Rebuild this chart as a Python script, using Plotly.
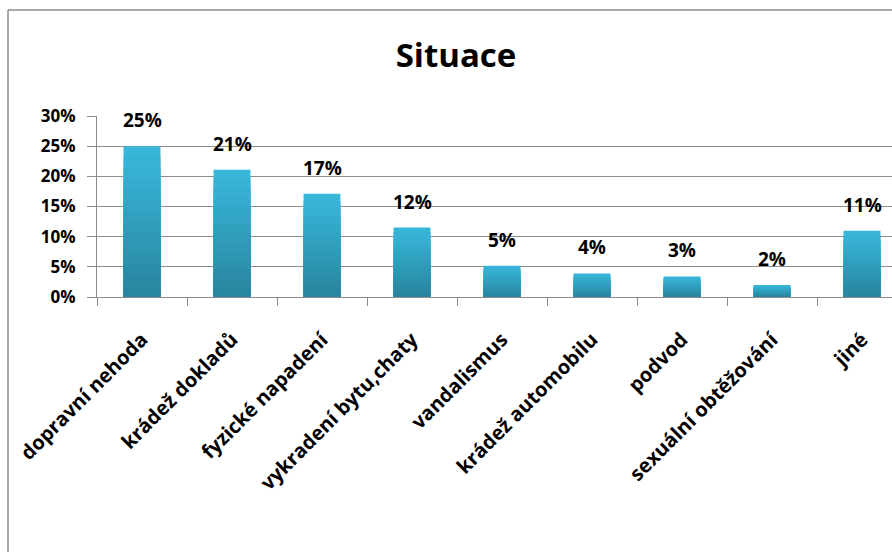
import plotly.graph_objects as go

categories = ["dopravní nehoda", "krádež dokladů", "fyzické napadení", "vykradení bytu,chaty",
              "vandalismus", "krádež automobilu", "podvod", "sexuální obtěžování", "jiné"]
values = [25.0, 21.1, 17.1, 11.5, 5.2, 3.9, 3.4, 2.0, 11.0]
y_ticks = [0, 5, 10, 15, 20, 25, 30]
y_tick_labels = ["0%", "5%", "10%", "15%", "20%", "25%", "30%"]
title_text = "Situace"

FONT = "Open Sans"
W, H = 892, 552
L, T, B, R = 97, 116, 255, 0
PW, PH = W - L - R, H - T - B

top_col = (0x38, 0xB6, 0xDA)
bot_col = (0x29, 0x86, 0xA0)
N = 14

fig = go.Figure()
for i in range(N):
    f = i / (N - 1)
    c = tuple(round(top_col[k] + (bot_col[k] - top_col[k]) * f) for k in range(3))
    fig.add_trace(go.Bar(
        x=categories, y=[v * (N - i) / N for v in values],
        marker=dict(color="rgb(%d,%d,%d)" % c, line=dict(width=0)),
        width=0.41, hoverinfo="skip", showlegend=False))

for cat, v in zip(categories, values):
    fig.add_annotation(x=cat, y=v, text=f"{round(v)}%", showarrow=False,
                       yanchor="bottom", yshift=11,
                       font=dict(family=FONT, size=19, color="#000000", weight="bold"))

def px_x(p):
    return (p - L) / PW

def px_y(p):
    return (T + PH - p) / PH

shapes = [
    dict(type="line", xref="paper", yref="paper", x0=px_x(8), x1=px_x(900), y0=px_y(10), y1=px_y(10),
         line=dict(color="#8c8c8c", width=1.5)),
    dict(type="line", xref="paper", yref="paper", x0=px_x(8), x1=px_x(8), y0=px_y(10), y1=px_y(560),
         line=dict(color="#8c8c8c", width=1.5)),
]

fig.update_layout(
    width=W, height=H,
    margin=dict(l=L, r=R, t=T, b=B, pad=0),
    paper_bgcolor="white", plot_bgcolor="white",
    barmode="overlay",
    shapes=shapes,
    title=dict(text=title_text, x=456 / W, xanchor="center", y=1 - 55 / H, yanchor="middle",
               xref="container", yref="container",
               font=dict(family=FONT, size=33, color="#000000", weight="bold")),
    xaxis=dict(type="category", range=[-0.5, -0.5 + PW / 90.0], tickson="boundaries",
               ticks="outside", ticklen=8, tickcolor="#8c8c8c", tickwidth=1,
               showline=True, linecolor="#8c8c8c", linewidth=1, showgrid=False,
               tickangle=-45, ticklabelstandoff=22, automargin=False,
               tickfont=dict(family=FONT, size=20, color="#000000", weight="bold")),
    yaxis=dict(range=[0, 30], tickvals=y_ticks, ticktext=y_tick_labels,
               ticks="outside", ticklen=9, tickcolor="#8c8c8c", tickwidth=1,
               showline=True, linecolor="#8c8c8c", linewidth=1,
               showgrid=True, gridcolor="#8c8c8c", gridwidth=1, zeroline=False,
               ticklabelstandoff=8, automargin=False,
               tickfont=dict(family=FONT, size=17, color="#000000", weight="bold")),
)

fig.write_html("out.html", config={"displayModeBar": False},
               post_script="document.body.style.margin='0';")
